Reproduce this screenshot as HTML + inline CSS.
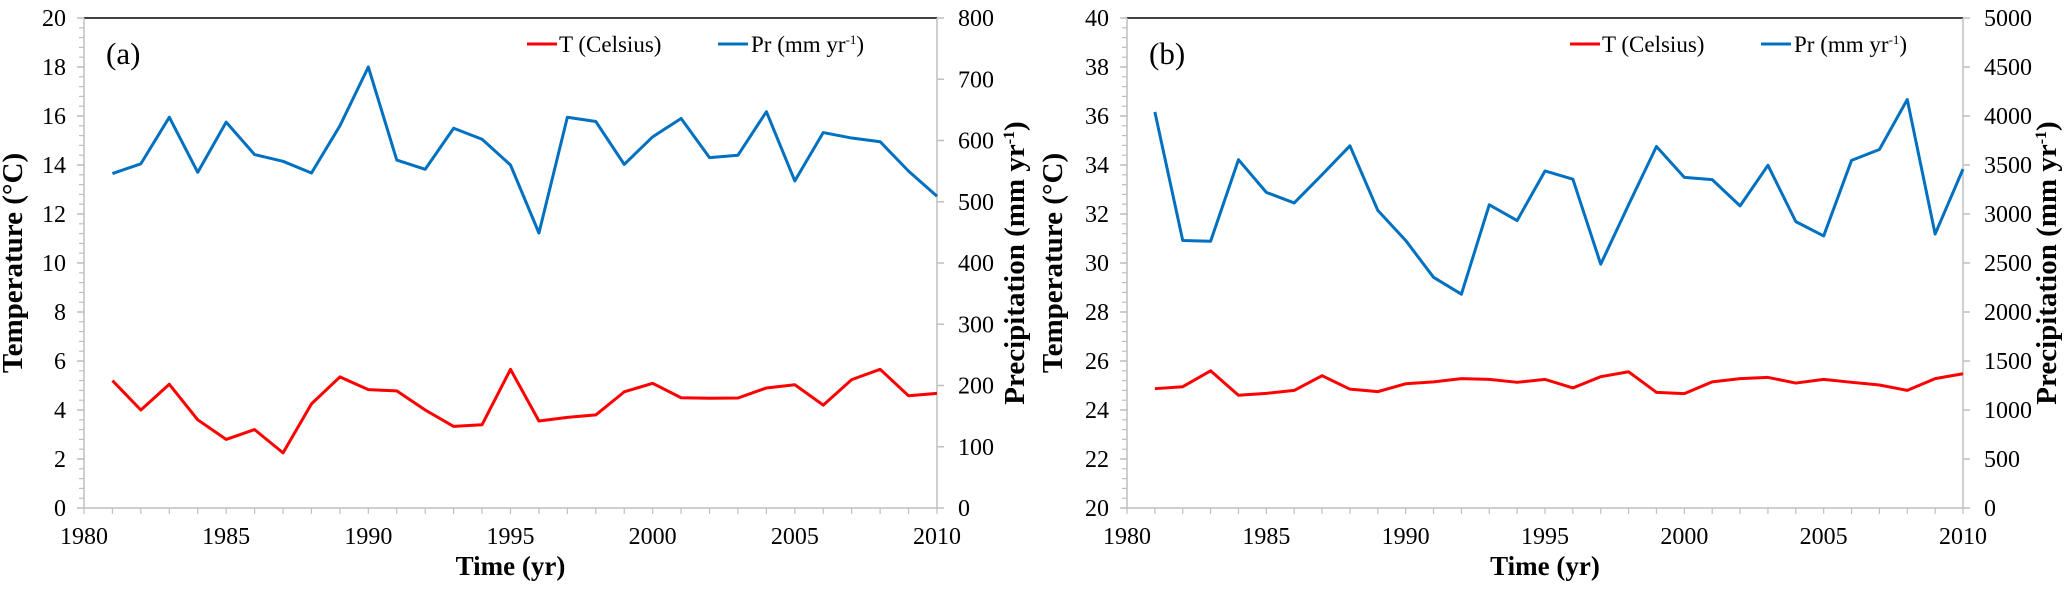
<!DOCTYPE html>
<html><head><meta charset="utf-8"><style>
html,body{margin:0;padding:0;background:#fff;}
svg, svg text{font-family:"Liberation Serif","Times New Roman",serif;}
</style></head><body>
<svg id="c" width="2068" height="589" viewBox="0 0 2068 589" font-family="Liberation Serif, serif"></svg>
<script>
const years = [1981,1982,1983,1984,1985,1986,1987,1988,1989,1990,1991,1992,1993,1994,1995,1996,1997,1998,1999,2000,2001,2002,2003,2004,2005,2006,2007,2008,2009,2010];
const tempA = [5.2,4.0,5.05,3.6,2.8,3.2,2.25,4.25,5.35,4.83,4.78,4.0,3.33,3.4,5.66,3.55,3.7,3.8,4.74,5.09,4.5,4.48,4.49,4.9,5.03,4.2,5.24,5.66,4.58,4.68];
const precA = [546,562,638,548,630,577,566,547,624,720,568,553,620,602,560,449,638,631,561,606,636,572,576,647,534,613,604,598,550,509];
const tempB = [24.87,24.95,25.6,24.6,24.68,24.8,25.4,24.85,24.75,25.07,25.15,25.28,25.25,25.13,25.25,24.9,25.36,25.56,24.72,24.67,25.15,25.28,25.33,25.1,25.25,25.13,25.02,24.8,25.28,25.48];
const precB = [4041,2730,2722,3554,3221,3113,3401,3696,3037,2730,2354,2182,3094,2933,3439,3355,2488,3094,3689,3374,3351,3083,3497,2922,2776,3547,3658,4168,2795,3458];
const xTicks = [1980,1985,1990,1995,2000,2005,2010];
const leftTicksA = [0,2,4,6,8,10,12,14,16,18,20];
const rightTicksA = [0,100,200,300,400,500,600,700,800];
const leftTicksB = [20,22,24,26,28,30,32,34,36,38,40];
const rightTicksB = [0,500,1000,1500,2000,2500,3000,3500,4000,4500,5000];

const svg = document.getElementById('c');
const NS = 'http://www.w3.org/2000/svg';
const FF = 'Liberation Serif, Times New Roman, serif';
function mk(tag, attrs, parent){const e=document.createElementNS(NS,tag);for(const k in attrs)e.setAttribute(k,attrs[k]);if(tag==='text')e.setAttribute('font-family',FF);(parent||svg).appendChild(e);return e;}

function panel(id, L, R, label, temp, prec, lt, rt, rTitleX, lTitleX){
  const T=18, B=508;
  const g = mk('g',{});
  
  
  const x = v => L + (v-1980)/(2010-1980)*(R-L);
  const yl = v => B - (v-lt[0])/(lt[lt.length-1]-lt[0])*(B-T);
  const yr = v => B - (v-rt[0])/(rt[rt.length-1]-rt[0])*(B-T);
  const gray='#bfbfbf';
  const top = mk('line',{x1:L,y1:T,x2:R,y2:T,stroke:'#000','stroke-width':1.5},g);
  
  
  const ax = mk('path',{d:`M${L},${T}V${B}H${R}V${T}`,fill:'none',stroke:gray,'stroke-width':1.5},g);
  
  
  const lmin=lt[0], lmax=lt[lt.length-1];
  for(let v=lmin; v<=lmax+1e-9; v+= (lt[1]-lt[0])/5){
    mk('line',{x1:L-5,y1:yl(v),x2:L,y2:yl(v),stroke:gray,'stroke-width':1.2},g);
  }
  lt.forEach(v=>{
    mk('line',{x1:L-7,y1:yl(v),x2:L,y2:yl(v),stroke:gray,'stroke-width':1.5},g);
    const t=mk('text',{x:L-18,y:yl(v)+8,'text-anchor':'end','font-size':24,fill:'#000'},g);
    t.textContent=v;
    
    
  });
  rt.forEach(v=>{
    mk('line',{x1:R,y1:yr(v),x2:R+7,y2:yr(v),stroke:gray,'stroke-width':1.5},g);
    const t=mk('text',{x:R+21,y:yr(v)+8,'text-anchor':'start','font-size':24,fill:'#000'},g);
    t.textContent=v;
    
    
  });
  for(let yv=1980; yv<=2010; yv++){
    mk('line',{x1:x(yv),y1:B,x2:x(yv),y2:B+6,stroke:gray,'stroke-width':1.2},g);
  }
  xTicks.forEach(v=>{
    const t=mk('text',{x:x(v),y:544,'text-anchor':'middle','font-size':24,fill:'#000'},g);
    t.textContent=v;
    
    
  });
  const xt=mk('text',{x:(L+R)/2,y:575,'text-anchor':'middle','font-size':27,'font-weight':'bold'},g);
  xt.textContent='Time (yr)';
  
  
  const ylt=mk('text',{x:0,y:0,'text-anchor':'middle','font-size':29,'font-weight':'bold',transform:`translate(${lTitleX},${(T+B)/2}) rotate(-90)`},g);
  ylt.textContent='Temperature (°C)';
  
  
  const yrt=mk('text',{x:0,y:0,'text-anchor':'middle','font-size':29,'font-weight':'bold',transform:`translate(${rTitleX},${(T+B)/2}) rotate(-90)`},g);
  yrt.innerHTML='Precipitation (mm yr<tspan dy="-10" font-size="16">-1</tspan><tspan dy="10">)</tspan>';
  
  
  const pl=mk('text',{x:L+22,y:64,'font-size':31},g);
  pl.textContent=label;
  
  
  const pp=mk('polyline',{points:years.map((yv,i)=>x(yv)+','+yr(prec[i])).join(' '),fill:'none',stroke:'#0070c0','stroke-width':3,'stroke-linejoin':'round'},g);
  
  
  const tp=mk('polyline',{points:years.map((yv,i)=>x(yv)+','+yl(temp[i])).join(' '),fill:'none',stroke:'#ff0000','stroke-width':3,'stroke-linejoin':'round'},g);
  
  
  const lx = L + 443;
  const l1=mk('line',{x1:lx,y1:44,x2:lx+30,y2:44,stroke:'#ff0000','stroke-width':3},g);
  
  
  const t1=mk('text',{x:lx+32,y:52,'font-size':23},g);
  t1.textContent='T (Celsius)';
  
  
  const l2=mk('line',{x1:lx+191,y1:44,x2:lx+221,y2:44,stroke:'#0070c0','stroke-width':3},g);
  
  
  const t2=mk('text',{x:lx+224,y:52,'font-size':23},g);
  t2.innerHTML='Pr (mm yr<tspan dy="-8" font-size="13">-1</tspan><tspan dy="8">)</tspan>';
  
  
}
panel('a',84,937,'(a)',tempA,precA,leftTicksA,rightTicksA,1024,22);
panel('b',1127,1963,'(b)',tempB,precB,leftTicksB,rightTicksB,2056,1062);
</script>
</body></html>
